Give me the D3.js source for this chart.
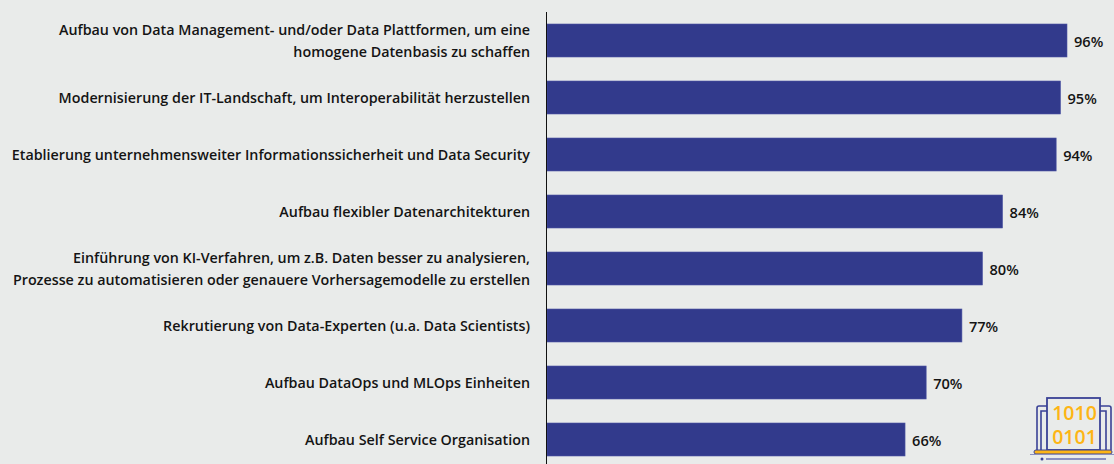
<!DOCTYPE html>
<html lang="de">
<head>
<meta charset="utf-8">
<script src="https://cdn.jsdelivr.net/npm/d3@7"></script>
<style>
  html, body { margin: 0; padding: 0; background: #e9ebea; overflow: hidden; }
  text { font-family: "Open Sans", sans-serif; font-weight: 600; fill: #141414; }
</style>
</head>
<body>
<svg id="chart" width="1114" height="464"></svg>
<script>
// Kategorien, eine Zeile pro Eintrag im inneren Array
const categories = [
  ["Aufbau von Data Management- und/oder Data Plattformen, um eine", "homogene Datenbasis zu schaffen"],
  ["Modernisierung der IT-Landschaft, um Interoperabilität herzustellen"],
  ["Etablierung unternehmensweiter Informationssicherheit und Data Security"],
  ["Aufbau flexibler Datenarchitekturen"],
  ["Einführung von KI-Verfahren, um z.B. Daten besser zu analysieren,", "Prozesse zu automatisieren oder genauere Vorhersagemodelle zu erstellen"],
  ["Rekrutierung von Data-Experten (u.a. Data Scientists)"],
  ["Aufbau DataOps und MLOps Einheiten"],
  ["Aufbau Self Service Organisation"]
];
// Balkenlängen aus dem Bild geschätzt, Beschriftungen wie abgedruckt
const values = [96, 94.8, 94, 84.1, 80.4, 76.6, 70, 66.1];
const valueLabels = ["96%", "95%", "94%", "84%", "80%", "77%", "70%", "66%"];

const svg = d3.select("#chart");
const margin = { top: 12, left: 547 };

const x = d3.scaleLinear().domain([0, 96]).range([margin.left, 1067]);
const y = d3.scaleBand()
  .domain(d3.range(categories.length))
  .range([margin.top, margin.top + 57 * categories.length])
  .paddingInner(24 / 57)
  .paddingOuter(12 / 57);

// Balken
svg.append("g").selectAll("rect")
  .data(values)
  .join("rect")
  .attr("x", x(0))
  .attr("y", (d, i) => y(i))
  .attr("width", d => x(d) - x(0))
  .attr("height", y.bandwidth())
  .attr("fill", "#323a8c")
  .attr("stroke", "#4d55a3")
  .attr("stroke-width", 0.6);

// Werte rechts neben den Balken
svg.append("g").selectAll("text")
  .data(values)
  .join("text")
  .attr("x", d => x(d) + 7)
  .attr("y", (d, i) => y(i) + y.bandwidth() / 2 + 1)
  .attr("dy", "0.35em")
  .attr("font-size", 14.6)
  .text((d, i) => valueLabels[i]);

// Achse links mit mehrzeiligen Beschriftungen
const axis = svg.append("g")
  .attr("transform", `translate(${margin.left},0)`)
  .call(d3.axisLeft(y).tickSize(0).tickPadding(17).tickFormat(""));

axis.select(".domain")
  .attr("stroke", "#111")
  .attr("d", "M-0.5,12V464");

axis.selectAll(".tick text")
  .attr("font-size", 14.3)
  .attr("text-anchor", "end")
  .each(function (i) {
    const lines = categories[i];
    const t = d3.select(this);
    const lh = 22;
    lines.forEach((l, k) => {
      t.append("tspan")
        .attr("x", -17)
        .attr("y", (k - (lines.length - 1) / 2) * lh)
        .attr("dy", "0.35em")
        .text(l);
    });
  });

// Laptop-Symbol unten rechts
const icon = svg.append("g").attr("transform", "translate(1014,384)");
const blue = "#3a4296", gold = "#fdb515";
icon.append("path").attr("fill", "none").attr("stroke", blue).attr("stroke-width", 1.6)
  .attr("d", "M23,66V24Q23,22 25,22H33 M33,27H27V66 M86,22H95Q97,22 97,24V66 M86,27H92V66");
icon.append("rect").attr("x", 33).attr("y", 14).attr("width", 53).attr("height", 52)
  .attr("fill", "#e9ebea").attr("stroke", blue).attr("stroke-width", 1.8);
icon.append("rect").attr("x", 20).attr("y", 66).attr("width", 78).attr("height", 4)
  .attr("rx", 2).attr("fill", gold).attr("stroke", blue).attr("stroke-width", 1);
icon.append("line").attr("x1", 16).attr("x2", 100).attr("y1", 70.5).attr("y2", 70.5)
  .attr("stroke", "#8a8fc0").attr("stroke-width", 1);
icon.append("circle").attr("cx", 28).attr("cy", 75).attr("r", 1.5).attr("fill", blue);
icon.append("line").attr("x1", 32).attr("x2", 92).attr("y1", 75).attr("y2", 75)
  .attr("stroke", "#8a8fc0").attr("stroke-width", 2);
["1010", "0101"].forEach((s, k) => {
  icon.append("text").attr("x", 60.5).attr("y", 36 + k * 24)
    .attr("text-anchor", "middle")
    .attr("font-size", 19.5).attr("font-weight", 700)
    .style("fill", gold).text(s);
});
</script>
</body>
</html>
